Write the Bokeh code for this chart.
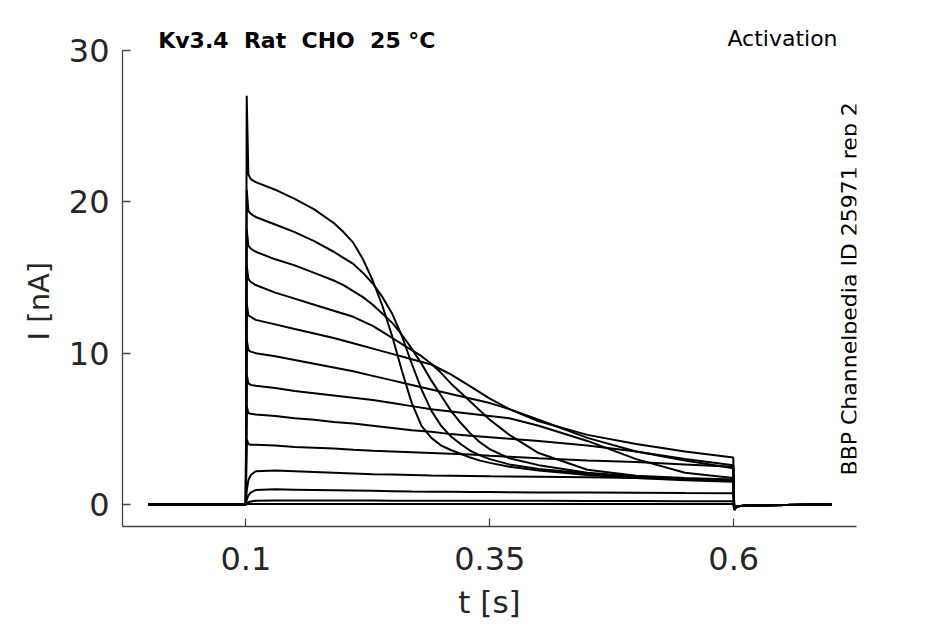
from bokeh.plotting import figure
from bokeh.models import Label, FixedTicker, Range1d
from bokeh.embed import file_html
from bokeh.resources import INLINE

# tiempos [s]: rejilla fina para las trazas que inactivan rapido
t_fino = [0.0, 0.0999, 0.1008, 0.1025, 0.105, 0.11, 0.13, 0.15, 0.17, 0.19,
          0.20, 0.21, 0.22, 0.23, 0.24, 0.25, 0.26, 0.27, 0.28, 0.29,
          0.30, 0.31, 0.32, 0.33, 0.34, 0.35, 0.37, 0.40, 0.45, 0.50,
          0.55, 0.5995, 0.6005, 0.603, 0.62, 0.70]
t_grueso = [0.0, 0.0999, 0.1008, 0.1025, 0.105, 0.11, 0.13, 0.15, 0.17, 0.19,
            0.21, 0.23, 0.25, 0.27, 0.29, 0.31, 0.33, 0.35, 0.37, 0.40,
            0.45, 0.50, 0.55, 0.5995, 0.6005, 0.603, 0.62, 0.70]

# corrientes [nA], de la traza mas alta a la mas baja
i1 = [0, 0, 27.0, 21.8, 21.5, 21.3, 20.8, 20.2, 19.5, 18.6,
      18.0, 17.3, 16.2, 14.8, 13.1, 11.1, 8.8, 6.7, 5.2, 4.4,
      3.9, 3.6, 3.35, 3.1, 2.9, 2.75, 2.5, 2.25, 1.95, 1.75,
      1.6, 1.5, -0.35, -0.12, -0.05, 0]
i2 = [0, 0, 20.8, 19.4, 19.2, 19.0, 18.5, 18.0, 17.4, 16.7,
      16.3, 15.9, 15.3, 14.6, 13.7, 12.6, 11.1, 9.3, 7.6, 6.2,
      5.2, 4.5, 4.0, 3.55, 3.25, 3.0, 2.65, 2.35, 2.05, 1.85,
      1.7, 1.6, -0.35, -0.12, -0.05, 0]
i3 = [0, 0, 18.2, 17.1, 16.9, 16.7, 16.2, 15.8, 15.3, 14.8,
      14.5, 14.1, 13.7, 13.2, 12.6, 12.0, 11.2, 10.3, 9.3, 8.2,
      7.2, 6.2, 5.4, 4.7, 4.1, 3.65, 3.05, 2.6, 2.1, 1.85,
      1.7, 1.6, -0.35, -0.12, -0.05, 0]
i4 = [0, 0, 15.8, 14.9, 14.7, 14.5, 14.0, 13.6, 13.2, 12.8,
      12.6, 12.4, 12.1, 11.8, 11.4, 11.0, 10.6, 10.2, 9.8, 9.3,
      8.7, 8.0, 7.4, 6.8, 6.2, 5.6, 4.6, 3.4, 2.3, 1.9,
      1.75, 1.65, -0.35, -0.12, -0.05, 0]
i5 = [0, 0, 13.3, 12.5, 12.4, 12.2, 11.9, 11.6, 11.3, 11.0,
      10.65, 10.3, 9.95, 9.6, 9.25, 8.6, 7.8, 7.0, 6.3, 5.5,
      4.6, 4.0, 3.5, 3.1, -0.35, -0.12, -0.05, 0]
i6 = [0, 0, 10.9, 10.2, 10.1, 10.0, 9.8, 9.55, 9.3, 9.05,
      8.8, 8.5, 8.2, 7.9, 7.6, 7.3, 7.0, 6.7, 6.3, 5.6,
      4.4, 3.5, 2.9, 2.4, -0.35, -0.12, -0.05, 0]
i7 = [0, 0, 8.6, 8.0, 7.9, 7.85, 7.7, 7.5, 7.35, 7.2,
      7.05, 6.9, 6.7, 6.5, 6.3, 6.15, 6.0, 5.85, 5.7, 5.2,
      4.2, 3.0, 2.1, 1.75, -0.35, -0.12, -0.05, 0]
i8 = [0, 0, 6.5, 6.05, 6.0, 5.95, 5.85, 5.7, 5.6, 5.45,
      5.35, 5.2, 5.05, 4.9, 4.8, 4.65, 4.55, 4.45, 4.35, 4.2,
      3.9, 3.5, 3.0, 2.6, -0.35, -0.12, -0.05, 0]
i9 = [0, 0, 4.3, 4.0, 3.95, 3.95, 3.9, 3.8, 3.75, 3.7,
      3.62, 3.55, 3.5, 3.45, 3.4, 3.35, 3.3, 3.22, 3.15, 3.05,
      2.9, 2.8, 2.65, 2.5, -0.35, -0.12, -0.05, 0]
i10 = [0, 0, 0.9, 1.6, 1.95, 2.2, 2.25, 2.2, 2.15, 2.1,
       2.05, 2.0, 1.98, 1.95, 1.92, 1.9, 1.88, 1.86, 1.85, 1.83,
       1.8, 1.75, 1.68, 1.6, -0.35, -0.12, -0.05, 0]
i11 = [0, 0, 0.3, 0.6, 0.8, 0.95, 1.0, 0.98, 0.96, 0.94,
       0.92, 0.9, 0.88, 0.86, 0.85, 0.84, 0.83, 0.82, 0.81, 0.8,
       0.79, 0.78, 0.76, 0.75, -0.35, -0.12, -0.05, 0]
i12 = [0, 0, 0.08, 0.15, 0.2, 0.25, 0.27, 0.27, 0.26, 0.26,
       0.26, 0.26, 0.25, 0.25, 0.25, 0.25, 0.25, 0.24, 0.24, 0.24,
       0.23, 0.23, 0.22, 0.22, -0.35, -0.12, -0.05, 0]
i13 = [0, 0, 0.02, 0.03, 0.03, 0.03, 0.03, 0.03, 0.03, 0.03,
       0.03, 0.03, 0.03, 0.03, 0.03, 0.03, 0.03, 0.03, 0.03, 0.03,
       0.03, 0.03, 0.03, 0.03, -0.35, -0.12, -0.05, 0]
rapidas = [i1, i2, i3, i4]
lentas = [i5, i6, i7, i8, i9, i10, i11, i12, i13]

x_ticks = [0.1, 0.35, 0.6]
x_labels = ["0.1", "0.35", "0.6"]
y_ticks = [0, 10, 20, 30]

NB = "\u00a0"  # espacio duro: el SVG no junta los dobles espacios
titulo = "Kv3.4" + NB * 2 + "Rat" + NB * 2 + "CHO" + NB * 2 + "25" + NB + "\u00b0C"
protocolo = "Activation"
fuente = "BBP Channelpedia ID 25971 rep 2"

FONT = "DejaVu Sans"
GRIS = "#262626"

p = figure(width=929, height=624, output_backend="svg", toolbar_location=None,
           x_range=Range1d(-0.0265, 0.7258), y_range=Range1d(-1.454, 31.98),
           min_border_left=122, min_border_right=73,
           min_border_top=20, min_border_bottom=98)
p.outline_line_color = None
p.grid.visible = False
p.background_fill_color = "white"
p.border_fill_color = "white"

for tr in rapidas:
    p.line(t_fino, tr, line_color="black", line_width=2)
for tr in lentas:
    p.line(t_grueso, tr, line_color="black", line_width=2)

# ejes con marcas hacia dentro
for ax in (p.xaxis[0], p.yaxis[0]):
    ax.axis_line_color = "#444444"
    ax.axis_line_width = 1.3
    ax.major_tick_line_color = "#444444"
    ax.major_tick_line_width = 1.3
    ax.major_tick_in = 8
    ax.major_tick_out = 0
    ax.minor_tick_line_color = None
    ax.major_label_text_font = FONT
    ax.major_label_text_font_size = "32px"
    ax.major_label_text_color = GRIS
    ax.axis_label_text_font = FONT
    ax.axis_label_text_font_style = "normal"
    ax.axis_label_text_color = GRIS

p.xaxis.ticker = FixedTicker(ticks=x_ticks)
p.xaxis.major_label_overrides = dict(zip(x_ticks, x_labels))
p.xaxis.major_label_standoff = 20
p.xaxis.axis_label = "t [s]"
p.xaxis.axis_label_text_font_size = "31px"
p.xaxis.axis_label_standoff = 11

p.yaxis.ticker = FixedTicker(ticks=y_ticks)
p.yaxis.bounds = (-1.454, 30)
p.yaxis.major_label_standoff = 13
# el rotulo va algo por debajo del centro del marco
p.yaxis.axis_label = "I [nA]" + NB * 6
p.yaxis.axis_label_text_font_size = "29px"
p.yaxis.axis_label_standoff = 10

p.add_layout(Label(x=0.0101, y=30.66, text=titulo, text_font=FONT,
                   text_font_size="22px", text_font_style="bold",
                   text_color="black", text_baseline="middle"))
p.add_layout(Label(x=0.5935, y=30.79, text=protocolo, text_font=FONT,
                   text_font_size="22px", text_color="black",
                   text_baseline="middle"))
p.add_layout(Label(x=0.7186, y=1.92, text=fuente, text_font=FONT,
                   text_font_size="22px", text_color="black", angle=1.5708,
                   text_align="left", text_baseline="middle"))

open("out.html", "w").write(file_html(p, INLINE))
